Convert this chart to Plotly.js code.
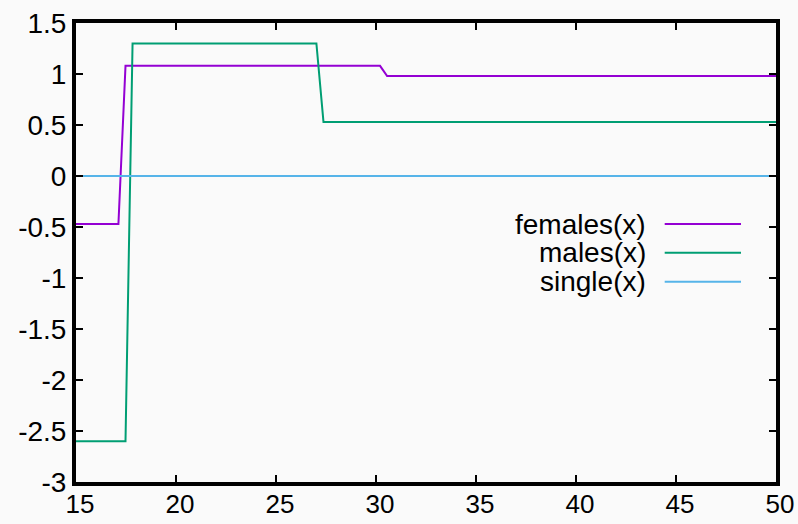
<!DOCTYPE html>
<html>
<head>
<meta charset="utf-8">
<script src="https://cdn.plot.ly/plotly-3.0.1.min.js"></script>
<style>
html,body{margin:0;padding:0;background:#fafafa;}
#chart{width:798px;height:524px;}
</style>
</head>
<body>
<div id="chart"></div>
<script>
// Data
const seriesNames = ["females(x)", "males(x)", "single(x)"];
const femalesX = [15, 17.121, 17.475, 30.202, 30.556, 50];
const femalesY = [-0.47, -0.47, 1.08, 1.08, 0.98, 0.98];
const malesX = [15, 17.475, 17.828, 27.020, 27.374, 50];
const malesY = [-2.6, -2.6, 1.3, 1.3, 0.53, 0.53];
const singleX = [15, 50];
const singleY = [0, 0];
const xTickVals = [15, 20, 25, 30, 35, 40, 45, 50];
const xTickText = ["15", "20", "25", "30", "35", "40", "45", "50"];
const yTickVals = [-3, -2.5, -2, -1.5, -1, -0.5, 0, 0.5, 1, 1.5];
const yTickText = ["-3", "-2.5", "-2", "-1.5", "-1", "-0.5", "0", "0.5", "1", "1.5"];
const colors = ["#9400d3", "#009e73", "#56b4e9"];

const xs = [femalesX, malesX, singleX];
const ys = [femalesY, malesY, singleY];

const traces = seriesNames.map((n, i) => ({
  x: xs[i], y: ys[i], name: n, mode: "lines", type: "scatter",
  line: {color: colors[i], width: 2}, showlegend: false, hoverinfo: "none"
}));

const font = {family: "Liberation Sans, Arial, sans-serif", size: 28, color: "#000"};
const xFont = {family: "Liberation Sans, Arial, sans-serif", size: 26, color: "#000"};
const legendRows = [0.562, 0.4996, 0.4364];
const annotations = seriesNames.map((n, i) => ({
  xref: "paper", yref: "paper", x: 0.817, y: legendRows[i],
  xanchor: "right", yanchor: "middle", text: n, showarrow: false, font: font
}));
const shapes = seriesNames.map((n, i) => ({
  type: "line", xref: "paper", yref: "paper",
  x0: 0.841, x1: 0.950, y0: legendRows[i], y1: legendRows[i],
  line: {color: colors[i], width: 2}
}));

const axisCommon = {
  showgrid: false, zeroline: false, showline: true, linecolor: "#000", linewidth: 4,
  mirror: "ticks", ticks: "inside", ticklen: 7, tickwidth: 2, tickcolor: "#000",
  tickfont: font, tickmode: "array"
};

const layout = {
  width: 798, height: 524,
  margin: {l: 76, r: 22, t: 23, b: 42},
  paper_bgcolor: "#fafafa", plot_bgcolor: "#fafafa",
  font: font,
  xaxis: Object.assign({}, axisCommon, {range: [15, 50], tickvals: xTickVals, ticktext: xTickText,
    ticklabelshift: 4, ticklabelstandoff: -4, tickfont: xFont}),
  yaxis: Object.assign({}, axisCommon, {range: [-3, 1.5], tickvals: yTickVals, ticktext: yTickText}),
  annotations: annotations,
  shapes: shapes,
  showlegend: false
};

Plotly.newPlot("chart", traces, layout, {displayModeBar: false, staticPlot: true});
</script>
</body>
</html>
